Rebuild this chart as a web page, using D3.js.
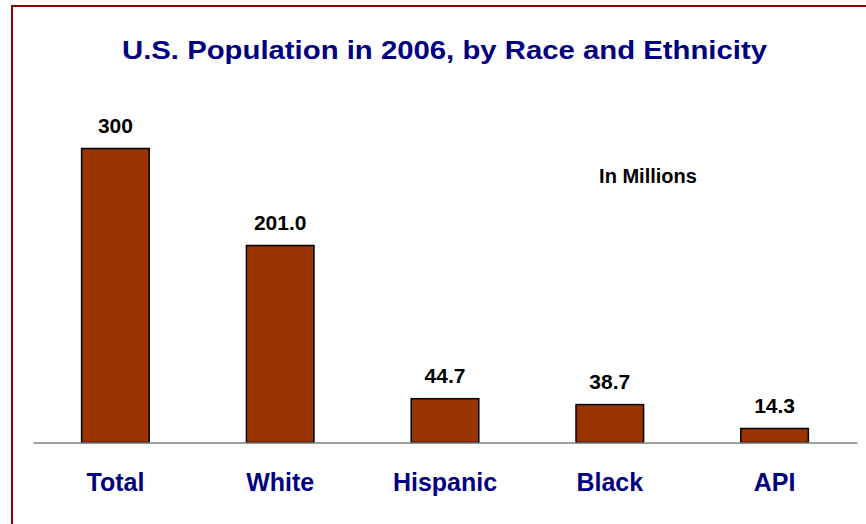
<!DOCTYPE html>
<html>
<head>
<meta charset="utf-8">
<script src="https://cdn.jsdelivr.net/npm/d3@7"></script>
<style>
  html, body { margin: 0; padding: 0; background: #fff; }
  svg { display: block; }
</style>
</head>
<body>
<script>
const categories = ["Total", "White", "Hispanic", "Black", "API"];
const values = [300, 201.0, 44.7, 38.7, 14.3];
const valueLabels = ["300", "201.0", "44.7", "38.7", "14.3"];
const titleText = "U.S. Population in 2006, by Race and Ethnicity";
const unitText = "In Millions";

const W = 866, H = 524;
const svg = d3.select("body").append("svg").attr("width", W).attr("height", H);

// frame
svg.append("rect")
  .attr("x", 12).attr("y", 6).attr("width", W + 20).attr("height", H + 20)
  .attr("fill", "none").attr("stroke", "#8B0000").attr("stroke-width", 2);

const baseline = 442.5;
const x = d3.scaleBand().domain(categories).range([33, 857])
  .paddingInner(0.59).paddingOuter(0.295);
const y = d3.scaleLinear().domain([0, 300]).range([baseline, baseline - 294]);

const font = "Arial, 'Liberation Sans', Helvetica, sans-serif";

svg.append("text")
  .attr("x", 444.5).attr("y", 58.5)
  .attr("text-anchor", "middle")
  .attr("font-family", font).attr("font-weight", "bold").attr("font-size", 26.5)
  .attr("textLength", 645).attr("lengthAdjust", "spacingAndGlyphs")
  .attr("fill", "#000080")
  .text(titleText);

svg.append("text")
  .attr("x", 648).attr("y", 183)
  .attr("text-anchor", "middle")
  .attr("font-family", font).attr("font-weight", "bold").attr("font-size", 20)
  .attr("fill", "#000")
  .text(unitText);

const data = categories.map((c, i) => ({c, v: values[i], l: valueLabels[i]}));

svg.selectAll("rect.bar").data(data).enter().append("rect")
  .attr("class", "bar")
  .attr("x", d => x(d.c))
  .attr("y", d => y(d.v))
  .attr("width", x.bandwidth())
  .attr("height", d => baseline - y(d.v))
  .attr("fill", "#993300")
  .attr("stroke", "#000").attr("stroke-width", 1.5);

// axis baseline
const axis = d3.axisBottom(x).tickSize(0).tickPadding(0);
const gAxis = svg.append("g").attr("transform", `translate(0,${baseline})`).call(axis);
gAxis.select(".domain").attr("stroke", "#808080").attr("stroke-width", 1.5);
gAxis.selectAll(".tick text")
  .attr("y", 48.5).attr("dy", 0)
  .attr("font-family", font).attr("font-weight", "bold").attr("font-size", 25)
  .attr("fill", "#000080");

svg.selectAll("text.val").data(data).enter().append("text")
  .attr("class", "val")
  .attr("x", d => x(d.c) + x.bandwidth() / 2)
  .attr("y", d => y(d.v) - 15.5)
  .attr("text-anchor", "middle")
  .attr("font-family", font).attr("font-weight", "bold").attr("font-size", 21)
  .attr("fill", "#000")
  .text(d => d.l);
</script>
</body>
</html>
